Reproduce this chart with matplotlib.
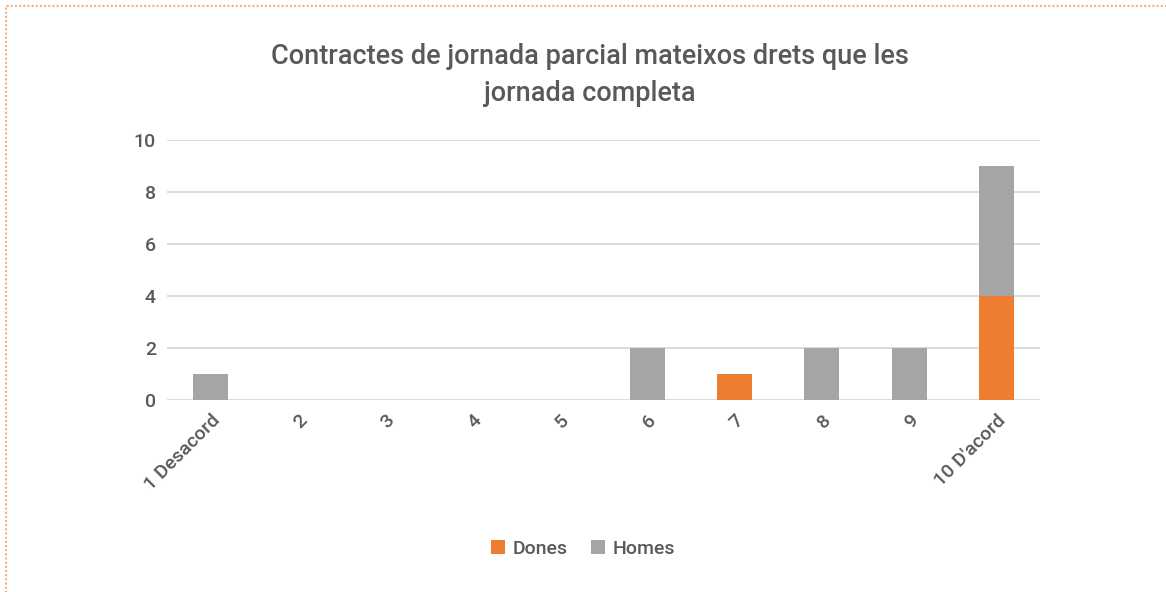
import matplotlib.pyplot as plt
from matplotlib.patches import Rectangle

plt.rcParams['font.family'] = ['Roboto', 'DejaVu Sans']

# Dades
categories = ["1 Desacord", "2", "3", "4", "5", "6", "7", "8", "9", "10 D'acord"]
dones = [0, 0, 0, 0, 0, 0, 1, 0, 0, 4]
homes = [1, 0, 0, 0, 0, 2, 0, 2, 2, 5]

color_dones = "#ED7D31"
color_homes = "#A5A5A5"
color_text = "#595959"

fig = plt.figure(figsize=(11.66, 5.92), dpi=100)
ax = fig.add_axes([167 / 1166, 1 - 400 / 592, (1040 - 167) / 1166, 260 / 592])

x = list(range(len(categories)))
ax.bar(x, dones, width=0.4, color=color_dones, label="Dones", zorder=3)
ax.bar(x, homes, width=0.4, bottom=dones, color=color_homes, label="Homes", zorder=3)

ax.set_xlim(-0.5, len(categories) - 0.5)
ax.set_ylim(0, 10)
ax.set_yticks(range(0, 11, 2))
ax.grid(axis="y", color="#D9D9D9", linewidth=1.3, zorder=0)
ax.tick_params(length=0, labelsize=14, colors=color_text, pad=8)
ax.set_xticks(x)
ax.set_xticklabels(categories, rotation=45, ha="right", rotation_mode="anchor")
for lab in ax.get_xticklabels() + ax.get_yticklabels():
    lab.set_fontweight("medium")
for s in ax.spines.values():
    s.set_visible(False)

fig.text(0.506, 1 - 75 / 592, "Contractes de jornada parcial mateixos drets que les\njornada completa",
         ha="center", va="center", fontsize=19.5, fontweight="medium", color=color_text,
         linespacing=1.45)

fig.legend(loc="center", bbox_to_anchor=(0.5, 1 - 549 / 592), ncol=2, frameon=False,
           prop={"size": 14, "weight": "medium"}, labelcolor=color_text,
           handlelength=0.7, handleheight=0.7, columnspacing=1.2, handletextpad=0.4)

# vora puntejada
fig.add_artist(Rectangle((6 / 1166, -0.05), 1.1, 1 - 6 / 592 + 0.05, transform=fig.transFigure,
                         fill=False, edgecolor="#F4B183", linestyle=(0, (1, 1)), linewidth=1.5))

fig.savefig("out.png", dpi=100)
